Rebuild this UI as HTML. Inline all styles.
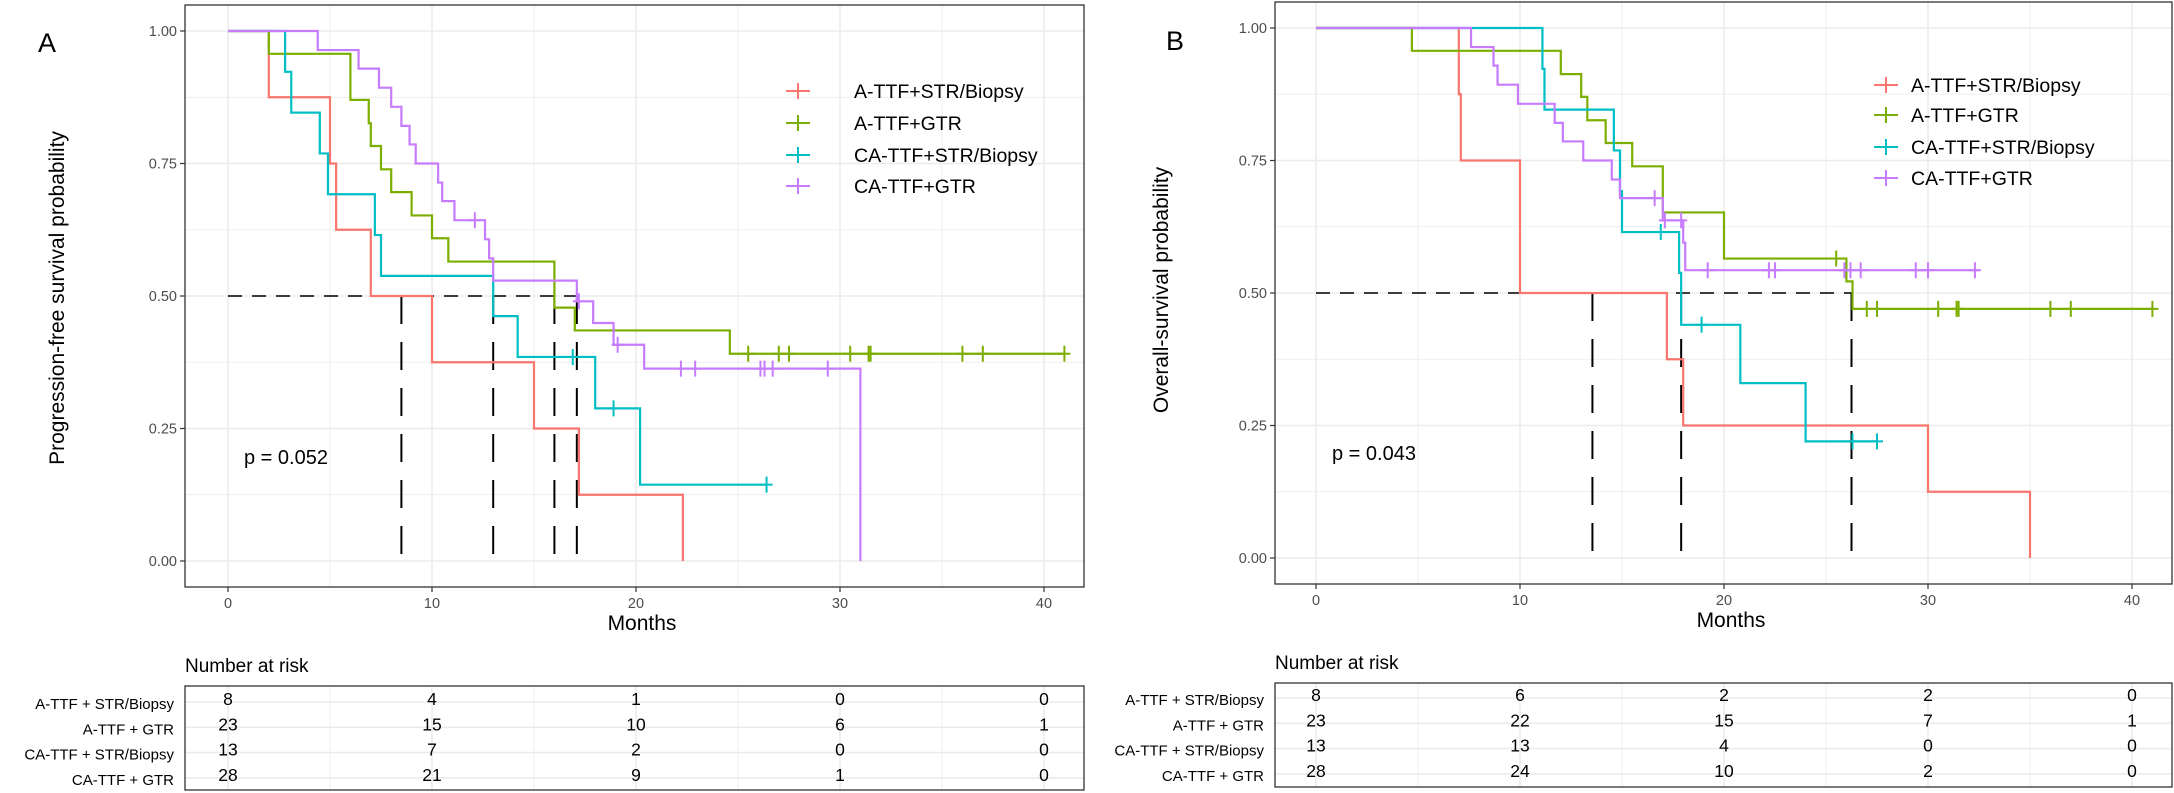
<!DOCTYPE html>
<html><head><meta charset="utf-8">
<style>
html,body{margin:0;padding:0;background:#fff;}
svg{display:block;font-family:"Liberation Sans",Arial,sans-serif;}
</style></head>
<body>
<svg id="fig" width="2174" height="793" viewBox="0 0 2174 793" xmlns="http://www.w3.org/2000/svg"></svg>
<script>
// ---------- Data ----------
const groupNames = ["A-TTF+STR/Biopsy","A-TTF+GTR","CA-TTF+STR/Biopsy","CA-TTF+GTR"];
const riskLabels = ["A-TTF + STR/Biopsy","A-TTF + GTR","CA-TTF + STR/Biopsy","CA-TTF + GTR"];
const colors = ["#F8766D","#7CAE00","#00BFC4","#C77CFF"];
const xTicks = [0,10,20,30,40];
const yTicks = [0,0.25,0.5,0.75,1];
const yTickLabels = ["0.00","0.25","0.50","0.75","1.00"];

// Panel A (PFS)
const pfsTimes = [
  [2.0,5.0,5.3,7.0,10.0,15.0,17.2,22.3],
  [2.0,6.0,6.9,7.0,7.5,8.0,9.0,10.0,10.8,16.0,17.0,24.6],
  [2.8,3.1,4.5,4.9,7.2,7.5,13.0,14.2,18.0,20.2],
  [4.4,6.4,7.4,8.0,8.5,8.9,9.2,10.3,10.5,11.1,12.6,12.8,13.0,17.1,17.9,18.9,20.4,31.0]
];
const pfsSurv = [
  [0.875,0.75,0.625,0.5,0.375,0.25,0.125,0],
  [0.957,0.870,0.826,0.783,0.739,0.696,0.652,0.609,0.565,0.478,0.435,0.391],
  [0.923,0.846,0.769,0.692,0.615,0.538,0.462,0.385,0.288,0.144],
  [0.964,0.929,0.893,0.857,0.821,0.786,0.75,0.714,0.679,0.643,0.607,0.571,0.529,0.49,0.449,0.408,0.363,0]
];
const pfsEnd = [22.3,41.0,26.4,31.0];
const pfsCensor = [
  [],
  [25.5,27.0,27.5,30.5,31.4,31.5,36.0,37.0,41.0],
  [16.9,18.9,26.4],
  [12.1,17.2,19.1,22.2,22.9,26.1,26.3,26.7,29.4]
];
const pfsMedians = [8.5,13.0,16.0,17.1];
const pfsRisk = [[8,4,1,0,0],[23,15,10,6,1],[13,7,2,0,0],[28,21,9,1,0]];

// Panel B (OS)
const osTimes = [
  [7.0,7.1,10.0,17.2,18.0,30.0,35.0],
  [4.7,12.0,13.0,13.3,14.2,15.5,17.0,20.0,26.0,26.3],
  [11.1,11.2,14.6,14.9,15.0,17.8,17.9,20.8,24.0],
  [7.6,8.7,8.9,9.9,11.7,12.1,13.1,14.5,14.9,17.0,18.0,18.1]
];
const osSurv = [
  [0.875,0.75,0.5,0.375,0.25,0.125,0],
  [0.957,0.913,0.870,0.826,0.783,0.739,0.652,0.565,0.522,0.47],
  [0.923,0.846,0.769,0.692,0.615,0.538,0.44,0.33,0.22],
  [0.964,0.929,0.893,0.857,0.821,0.786,0.75,0.714,0.679,0.637,0.595,0.543]
];
const osEnd = [35.0,41.0,27.5,32.5];
const osCensor = [
  [],
  [25.5,27.0,27.5,30.5,31.4,31.5,36.0,37.0,41.0],
  [16.9,18.9,26.3,27.5],
  [16.6,17.1,17.9,19.2,22.2,22.5,25.9,26.2,26.7,29.4,30.0,32.3]
];
const osMedians = [13.55,17.9,26.25];
const osRisk = [[8,6,2,2,0],[23,22,15,7,1],[13,13,4,0,0],[28,24,10,2,0]];

// ---------- Drawing ----------
const NS = "http://www.w3.org/2000/svg";
const svg = document.getElementById('fig');
function el(tag, attrs, parent, text){
  const e = document.createElementNS(NS, tag);
  for (const k in attrs) e.setAttribute(k, attrs[k]);
  if (text !== undefined) e.textContent = text;
  (parent||svg).appendChild(e);
  return e;
}

function drawPanel(cfg){
  const g = el('g', {});
  
  
  const X = m => cfg.x0 + 20.4*m;
  const Y = v => cfg.y0 - 530*v;
  // background grid
  for (let m=-0; m<=40; m+=5){
    const major = m%10===0;
    const gl = el('line',{x1:X(m),x2:X(m),y1:cfg.top,y2:cfg.bottom,stroke:'#EBEBEB','stroke-width':major?1.6:0.8},g);
    
    
  }
  for (let v=0; v<=1.0001; v+=0.125){
    const major = Math.round(v*8)%2===0;
    const gl = el('line',{x1:cfg.left,x2:cfg.right,y1:Y(v),y2:Y(v),stroke:'#EBEBEB','stroke-width':major?1.6:0.8},g);
    
    
  }
  // median dashed lines
  const hmax = Math.max(...cfg.medians);
  const hl = el('line',{x1:X(0),x2:X(hmax),y1:Y(0.5),y2:Y(0.5),stroke:'#000','stroke-width':1.4,'stroke-dasharray':'14,10'},g);
  
  
  cfg.medians.forEach(m=>{
    const vl = el('line',{x1:X(m),x2:X(m),y1:Y(0.5),y2:Y(0),stroke:'#000','stroke-width':2,'stroke-dasharray':'28,18'},g);
    
    
  });
  // curves
  for (let s=0;s<4;s++){
    let d = `M${X(0)},${Y(1)}`;
    const t = cfg.times[s], sv = cfg.surv[s];
    for (let i=0;i<t.length;i++){ d += ` H${X(t[i])} V${Y(sv[i])}`; }
    d += ` H${X(cfg.end[s])}`;
    const p = el('path',{d:d,fill:'none',stroke:colors[s],'stroke-width':2.2},g);
    
    
    cfg.censor[s].forEach(c=>{
      let v = 1;
      for (let i=0;i<t.length;i++){ if (t[i]<=c) v = sv[i]; }
      const cm = el('path',{d:`M${X(c)-6},${Y(v)} H${X(c)+6} M${X(c)},${Y(v)-8} V${Y(v)+8}`,stroke:colors[s],'stroke-width':2,fill:'none'},g);
      
      
    });
  }
  // frame
  const fr = el('rect',{x:cfg.left,y:cfg.top,width:cfg.right-cfg.left,height:cfg.bottom-cfg.top,fill:'none',stroke:'#333','stroke-width':1.3},g);
  
  
  // ticks
  yTicks.forEach((v,i)=>{
    el('line',{x1:cfg.left-5,x2:cfg.left,y1:Y(v),y2:Y(v),stroke:'#333','stroke-width':1.2},g);
    const tl = el('text',{x:cfg.left-8,y:Y(v)+5,'text-anchor':'end','font-size':14.5,fill:'#4D4D4D'},g,yTickLabels[i]);
    
    
  });
  xTicks.forEach(m=>{
    el('line',{x1:X(m),x2:X(m),y1:cfg.bottom,y2:cfg.bottom+5,stroke:'#333','stroke-width':1.2},g);
    const tl = el('text',{x:X(m),y:cfg.bottom+21,'text-anchor':'middle','font-size':14.5,fill:'#4D4D4D'},g,String(m));
    
    
  });
  const xt = el('text',{x:cfg.monthsX,y:cfg.bottom+43,'text-anchor':'middle','font-size':21,fill:'#000'},g,'Months');
  
  
  const yt = el('text',{x:0,y:0,'text-anchor':'middle','font-size':21,fill:'#000',transform:`translate(${cfg.yTitleX},${cfg.yTitleY}) rotate(-90)`},g,cfg.yTitle);
  
  
  const pl = el('text',{x:cfg.pX,y:cfg.pY,'font-size':20,fill:'#000'},g,cfg.pText);
  
  
  const lt = el('text',{x:cfg.letterX,y:cfg.letterY,'text-anchor':'middle','font-size':27,fill:'#000'},g,cfg.letter);
  
  
  // legend
  for (let s=0;s<4;s++){
    const ly = cfg.legY[s];
    const lg = el('g',{},g);
    
    
    el('path',{d:`M${cfg.legSymX-12},${ly} H${cfg.legSymX+12} M${cfg.legSymX},${ly-8} V${ly+8}`,stroke:colors[s],'stroke-width':2,fill:'none'},lg);
    el('text',{x:cfg.legTextX,y:ly+7,'font-size':19.5,fill:'#000'},lg,groupNames[s]);
  }
  // risk table
  const tg = el('g',{},g);
  
  
  const ttl = el('text',{x:cfg.left,y:cfg.tTop-14,'font-size':19,fill:'#000'},tg,'Number at risk');
  
  
  for (let m=0;m<=40;m+=5){
    el('line',{x1:X(m),x2:X(m),y1:cfg.tTop,y2:cfg.tBottom,stroke:'#EBEBEB','stroke-width':m%10===0?1.6:0.8},tg);
  }
  for (let r=0;r<4;r++){
    const ry = cfg.tRow0 + r*25.3;
    el('line',{x1:cfg.left,x2:cfg.right,y1:ry+5,y2:ry+5,stroke:'#EBEBEB','stroke-width':1.6},tg);
    const rl = el('text',{x:cfg.left-11,y:ry+12,'text-anchor':'end','font-size':15,fill:'#000'},tg,riskLabels[r]);
    
    
    cfg.risk[r].forEach((n,i)=>{
      const nt = el('text',{x:X(xTicks[i]),y:ry+8,'text-anchor':'middle','font-size':17.5,fill:'#000'},tg,String(n));
      
      
    });
  }
  el('rect',{x:cfg.left,y:cfg.tTop,width:cfg.right-cfg.left,height:cfg.tBottom-cfg.tTop,fill:'none',stroke:'#333','stroke-width':1.3},tg);
}

drawPanel({name:'panel-a-pfs',x0:228,y0:561,left:185,right:1084,top:5,bottom:587,
  times:pfsTimes,surv:pfsSurv,end:pfsEnd,censor:pfsCensor,medians:pfsMedians,risk:pfsRisk,
  monthsX:642,yTitle:'Progression-free survival probability',yTitleX:64,yTitleY:298,
  pText:'p = 0.052',pX:244,pY:464,letter:'A',letterX:47,letterY:52,
  legSymX:798,legTextX:854,legY:[91,123,155,186],
  tTop:686,tBottom:790,tRow0:697,risk:pfsRisk});
drawPanel({name:'panel-b-os',x0:1316,y0:558,left:1275,right:2172,top:2,bottom:584,
  times:osTimes,surv:osSurv,end:osEnd,censor:osCensor,medians:osMedians,risk:osRisk,
  monthsX:1731,yTitle:'Overall-survival probability',yTitleX:1168,yTitleY:290,
  pText:'p = 0.043',pX:1332,pY:460,letter:'B',letterX:1175,letterY:50,
  legSymX:1886,legTextX:1911,legY:[85,115,147,178],
  tTop:683,tBottom:787,tRow0:693,risk:osRisk});
</script>
</body></html>
